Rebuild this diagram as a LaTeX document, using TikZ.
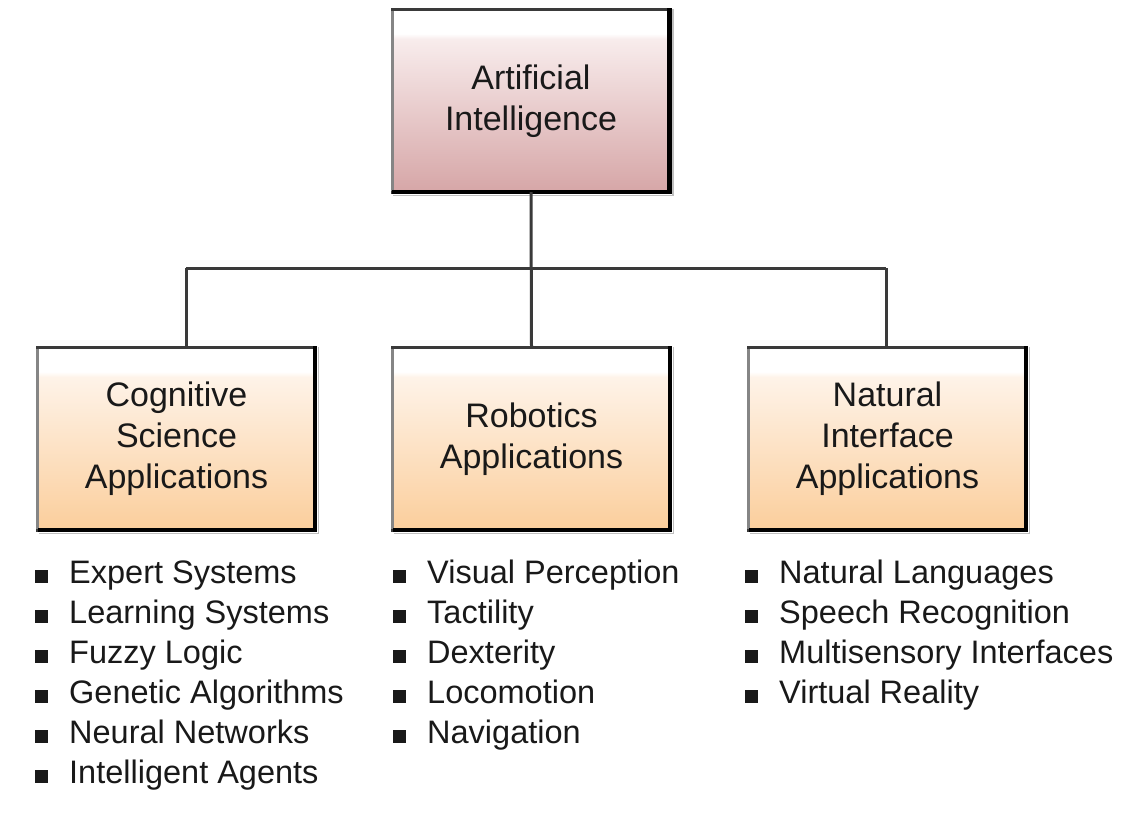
\documentclass[tikz,border=0pt]{standalone}
\usepackage{fontspec}
\setmainfont{Liberation Sans}
\definecolor{pinkB}{HTML}{D6A6A7}
\definecolor{pinkT}{HTML}{F8ECEC}
\definecolor{orB}{HTML}{FBCE9C}
\definecolor{orT}{HTML}{FEF3E8}
\definecolor{edge}{HTML}{3A3A3A}
\definecolor{ledge}{HTML}{858585}
\pgfdeclareverticalshading{pinkshade}{100bp}{color(0bp)=(pinkB); color(25bp)=(pinkB); color(67bp)=(pinkT); color(68.5bp)=(white); color(100bp)=(white)}
\pgfdeclareverticalshading{orshade}{100bp}{color(0bp)=(orB); color(25bp)=(orB); color(67bp)=(orT); color(68.5bp)=(white); color(100bp)=(white)}
\begin{document}
\begin{tikzpicture}[x=1pt,y=-1pt,
  catbox/.style={minimum width=277pt, minimum height=182pt, inner sep=0pt, align=center,
    font=\fontsize{34}{41}\selectfont, text=black!90},
  conn/.style={draw=edge, line width=3pt},
  item/.style={anchor=base west, inner sep=0pt, font=\fontsize{32.5}{38}\selectfont, text=black!90}]
\path[use as bounding box] (0,0) rectangle (1142,822);

% boxes
\node[catbox, shading=pinkshade] (ai) at (531,101) {Artificial\\Intelligence};
\node[catbox, shading=orshade] (cog) at (176.5,439) {Cognitive\\Science\\Applications};
\node[catbox, shading=orshade] (rob) at (531.5,439) {Robotics\\Applications};
\node[catbox, shading=orshade] (nat) at (887.5,439) {Natural\\Interface\\Applications};

% borders
\foreach \b in {ai,cog,rob,nat}{
  \draw[black!25, line width=1.5pt] ([xshift=3.5pt,yshift=1pt]\b.north east) -- ([xshift=3.5pt,yshift=-3.5pt]\b.south east) -- ([xshift=1pt,yshift=-3.5pt]\b.south west);
  \draw[edge, line width=3pt] (\b.south west) rectangle (\b.north east);
  \draw[ledge, line width=3pt] ([yshift=-1.5pt]\b.north west) -- ([yshift=1.5pt]\b.south west);
  \draw[black, line width=4.5pt] ([yshift=1.5pt]\b.north east) -- (\b.south east) -- (\b.south west);
}

% connectors
\coordinate (jl) at (186,268);
\coordinate (jr) at (886,268);
\draw[conn] (ai.south) -- (rob.north);
\draw[conn] (jl) -- (jr);
\draw[conn] (jl) -- ([xshift=9.5pt,yshift=-1.5pt]cog.north);
\draw[conn] (jr) -- ([xshift=-1.5pt,yshift=-1.5pt]nat.north);

% lists
\newcommand{\bul}{\rule{13pt}{13pt}\hspace{21pt}}
\node[item] (c1) at (35,583) {\bul Expert Systems};
\node[item] (c2) at (35,623) {\bul Learning Systems};
\node[item] (c3) at (35,663) {\bul Fuzzy Logic};
\node[item] (c4) at (35,703) {\bul Genetic Algorithms};
\node[item] (c5) at (35,743) {\bul Neural Networks};
\node[item] (c6) at (35,783) {\bul Intelligent Agents};

\node[item] (r1) at (393,583) {\bul Visual Perception};
\node[item] (r2) at (393,623) {\bul Tactility};
\node[item] (r3) at (393,663) {\bul Dexterity};
\node[item] (r4) at (393,703) {\bul Locomotion};
\node[item] (r5) at (393,743) {\bul Navigation};

\node[item] (n1) at (745,583) {\bul Natural Languages};
\node[item] (n2) at (745,623) {\bul Speech Recognition};
\node[item] (n3) at (745,663) {\bul Multisensory Interfaces};
\node[item] (n4) at (745,703) {\bul Virtual Reality};
\end{tikzpicture}
\end{document}
